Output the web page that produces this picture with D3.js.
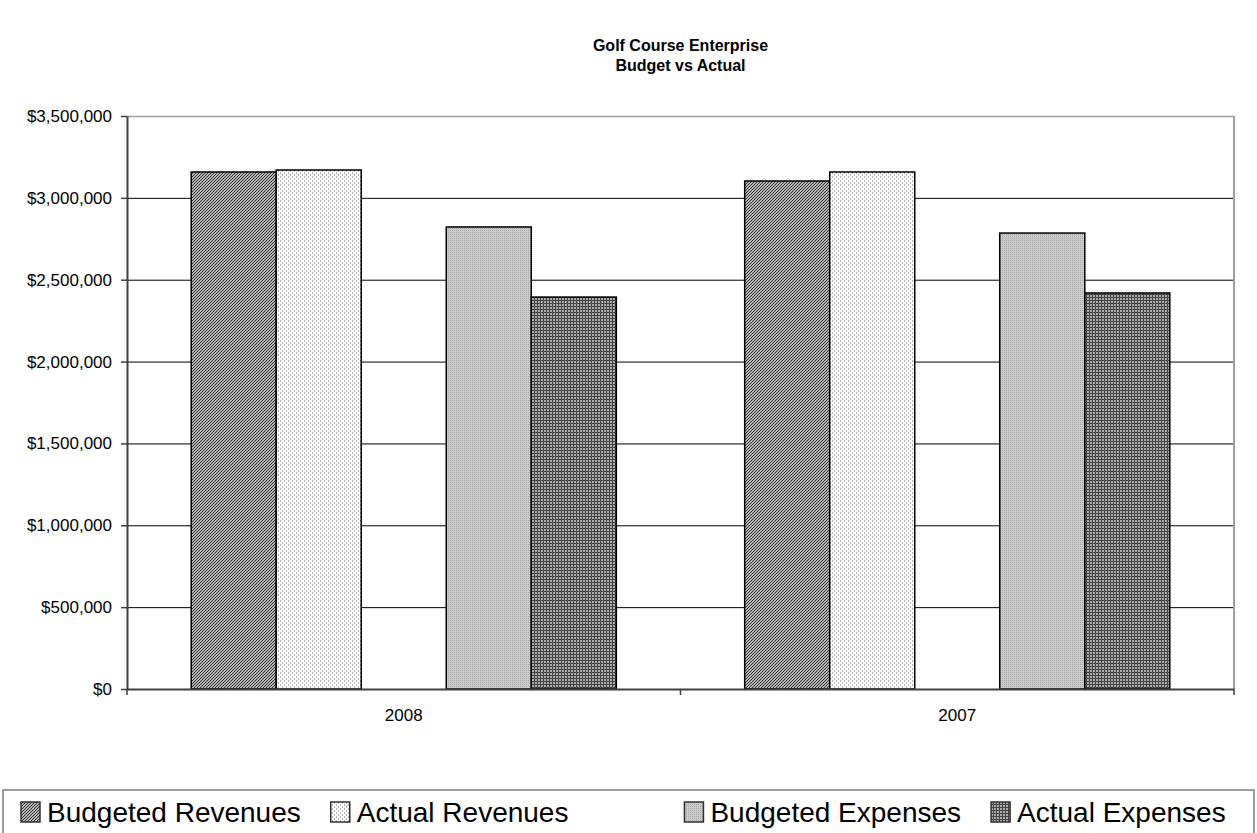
<!DOCTYPE html>
<html>
<head>
<meta charset="utf-8">
<script src="https://cdn.jsdelivr.net/npm/d3@7"></script>
<style>
body{margin:0;background:#fff;}
text{font-family:"Liberation Sans",Arial,sans-serif;fill:#000;}
</style>
</head>
<body>
<svg id="golf"></svg>
<script>
// chart values
var years = ["2008","2007"]
var seriesNames = ["Budgeted Revenues","Actual Revenues","","Budgeted Expenses","Actual Expenses"]
var budgetedRevenues = [3158000,3103000]
var actualRevenues = [3170000,3158000]
var budgetedExpenses = [2822000,2785000]
var actualExpenses = [2394000,2419000]
var yTicks = [0,500000,1000000,1500000,2000000,2500000,3000000,3500000]
var titleLines = ["Golf Course Enterprise","Budget vs Actual"]

var seriesValues = [budgetedRevenues,actualRevenues,null,budgetedExpenses,actualExpenses]

var makeTranslateString = function(x,y)
{
    return "translate("+x+","+y+")";
}

var makePatterns = function(svg)
{
    var defs = svg.append("defs")

    // diagonal hatch
    var p0 = defs.append("pattern").attr("id","pat0")
        .attr("patternUnits","userSpaceOnUse").attr("width",3).attr("height",3)
    p0.append("rect").attr("width",3).attr("height",3).attr("fill","#eeeeee")
    p0.append("path").attr("d","M-1,1 L1,-1 M0,3 L3,0 M2,4 L4,2")
        .attr("stroke","#2e2e2e").attr("stroke-width",1.15)

    // light dots
    var p1 = defs.append("pattern").attr("id","pat1")
        .attr("patternUnits","userSpaceOnUse").attr("width",4).attr("height",4)
    p1.append("rect").attr("width",4).attr("height",4).attr("fill","#fff")
    p1.append("rect").attr("x",0).attr("y",0).attr("width",1).attr("height",2).attr("fill","#b0b0b0")
    p1.append("rect").attr("x",2).attr("y",2).attr("width",1).attr("height",2).attr("fill","#b0b0b0")

    // medium grey
    var p3 = defs.append("pattern").attr("id","pat3")
        .attr("patternUnits","userSpaceOnUse").attr("width",2).attr("height",2)
    p3.append("rect").attr("width",2).attr("height",2).attr("fill","#cbcbcb")
    p3.append("rect").attr("x",0).attr("y",0).attr("width",1).attr("height",1).attr("fill","#a8a8a8")

    // dark checker
    var p4 = defs.append("pattern").attr("id","pat4")
        .attr("patternUnits","userSpaceOnUse").attr("width",3).attr("height",3)
    p4.append("rect").attr("width",3).attr("height",3).attr("fill","#444")
    p4.append("rect").attr("x",1).attr("y",1).attr("width",2).attr("height",2).attr("fill","#acacac")
}

var drawGrid = function(target,plot,yScale)
{
    var grid = target.append("g")
        .attr("transform",makeTranslateString(plot.left,0))
        .call(d3.axisLeft(yScale).tickValues(yTicks).tickSize(-plot.width).tickFormat(""))
    grid.select(".domain").remove()
    grid.selectAll("line").attr("stroke","#000").attr("stroke-width",1)
    grid.selectAll(".tick").filter(function(d){return d==yTicks[yTicks.length-1]})
        .select("line").attr("stroke","#a0a0a0").attr("stroke-width",1.5)

    // right border of plot area
    target.append("line")
        .attr("x1",plot.left+plot.width).attr("x2",plot.left+plot.width)
        .attr("y1",plot.top).attr("y2",plot.top+plot.height)
        .attr("stroke","#a0a0a0").attr("stroke-width",2)
}

var drawBars = function(target,xScale,xSub,yScale)
{
    var rows = []
    years.forEach(function(yr,i)
    {
        seriesNames.forEach(function(name,j)
        {
            if(seriesValues[j]) rows.push({year:yr,series:name,idx:j,value:seriesValues[j][i]})
        })
    })

    target.append("g").selectAll("rect")
    .data(rows)
    .enter()
    .append("rect")
    .attr("x",function(d){return xScale(d.year)+xSub(d.series);})
    .attr("y",function(d){return yScale(d.value);})
    .attr("width",xSub.bandwidth())
    .attr("height",function(d){return yScale(0)-yScale(d.value);})
    .attr("fill",function(d){return "url(#pat"+d.idx+")";})
    .attr("stroke","#000")
    .attr("stroke-width",1.5)
}

var drawAxes = function(target,plot,xScale,yScale)
{
    var yAxis = d3.axisLeft(yScale)
        .tickValues(yTicks)
        .tickFormat(function(d){return "$"+d3.format(",")(d);})
        .tickSize(6)
        .tickSizeOuter(0)
        .tickPadding(9)

    var ya = target.append("g")
        .attr("transform",makeTranslateString(plot.left,0))
        .call(yAxis)
    ya.select(".domain").attr("stroke","#404040").attr("stroke-width",2)
    ya.selectAll("line").attr("stroke","#404040").attr("stroke-width",1.5)
    ya.selectAll("text").attr("font-size",17).attr("font-family","Liberation Sans, Arial, sans-serif").attr("fill","#000")

    var xAxis = d3.axisBottom(xScale).tickSize(0).tickSizeOuter(0).tickPadding(20)
    var xa = target.append("g")
        .attr("transform",makeTranslateString(0,plot.top+plot.height))
        .call(xAxis)
    xa.select(".domain").attr("stroke","#404040").attr("stroke-width",2)
    xa.selectAll("text").attr("font-size",17).attr("font-family","Liberation Sans, Arial, sans-serif").attr("fill","#000")

    // category boundary ticks
    var edges = years.map(function(y){return xScale(y);})
    edges.push(xScale(years[years.length-1])+xScale.bandwidth())
    xa.selectAll(".edge")
    .data(edges)
    .enter()
    .append("line")
    .attr("x1",function(d){return d;})
    .attr("x2",function(d){return d;})
    .attr("y1",0).attr("y2",6)
    .attr("stroke","#404040").attr("stroke-width",1.5)
}

var drawLabels = function(svg,plot)
{
    var labels = svg.append("g")
    labels.selectAll("text")
    .data(titleLines)
    .enter()
    .append("text")
    .text(function(d){return d;})
    .attr("text-anchor","middle")
    .attr("font-weight","bold")
    .attr("font-size",16)
    .attr("x",plot.left+plot.width/2)
    .attr("y",function(d,i){return 51+i*20;})
}

var drawLegend = function(svg,screen)
{
    var legend = svg.append("g")
    legend.append("rect")
        .attr("x",3).attr("y",790)
        .attr("width",screen.width-6).attr("height",60)
        .attr("fill","none").attr("stroke","#808080").attr("stroke-width",1.5)

    var x = 21
    seriesNames.forEach(function(name,j)
    {
        if(seriesValues[j])
        {
            legend.append("rect")
                .attr("x",x).attr("y",802)
                .attr("width",19).attr("height",20)
                .attr("fill","url(#pat"+j+")")
                .attr("stroke","#303030").attr("stroke-width",1.5)
            var t = legend.append("text")
                .text(name)
                .attr("x",x+26).attr("y",822)
                .attr("font-size",28)
            x = x+26+t.node().getComputedTextLength()+30
        }
        else
        {
            // the empty series still takes a slot in the legend
            x = x+86
        }
    })
}

var initGraph = function()
{
    var screen = {width:1257,height:833}
    var plot = {left:127,top:116,width:1107,height:573}

    var svg = d3.select("#golf")
        .attr("width",screen.width)
        .attr("height",screen.height)

    makePatterns(svg)

    var xScale = d3.scaleBand()
        .domain(years)
        .range([plot.left,plot.left+plot.width])

    var xSub = d3.scaleBand()
        .domain(seriesNames)
        .range([0,xScale.bandwidth()])
        .paddingInner(0)
        .paddingOuter(0.755)

    var yScale = d3.scaleLinear()
        .domain([0,3500000])
        .range([plot.top+plot.height,plot.top])

    var target = svg.append("g").attr("id","graph")

    drawGrid(target,plot,yScale)
    drawBars(target,xScale,xSub,yScale)
    drawAxes(target,plot,xScale,yScale)
    drawLabels(svg,plot)
    drawLegend(svg,screen)
}

initGraph()
</script>
</body>
</html>
